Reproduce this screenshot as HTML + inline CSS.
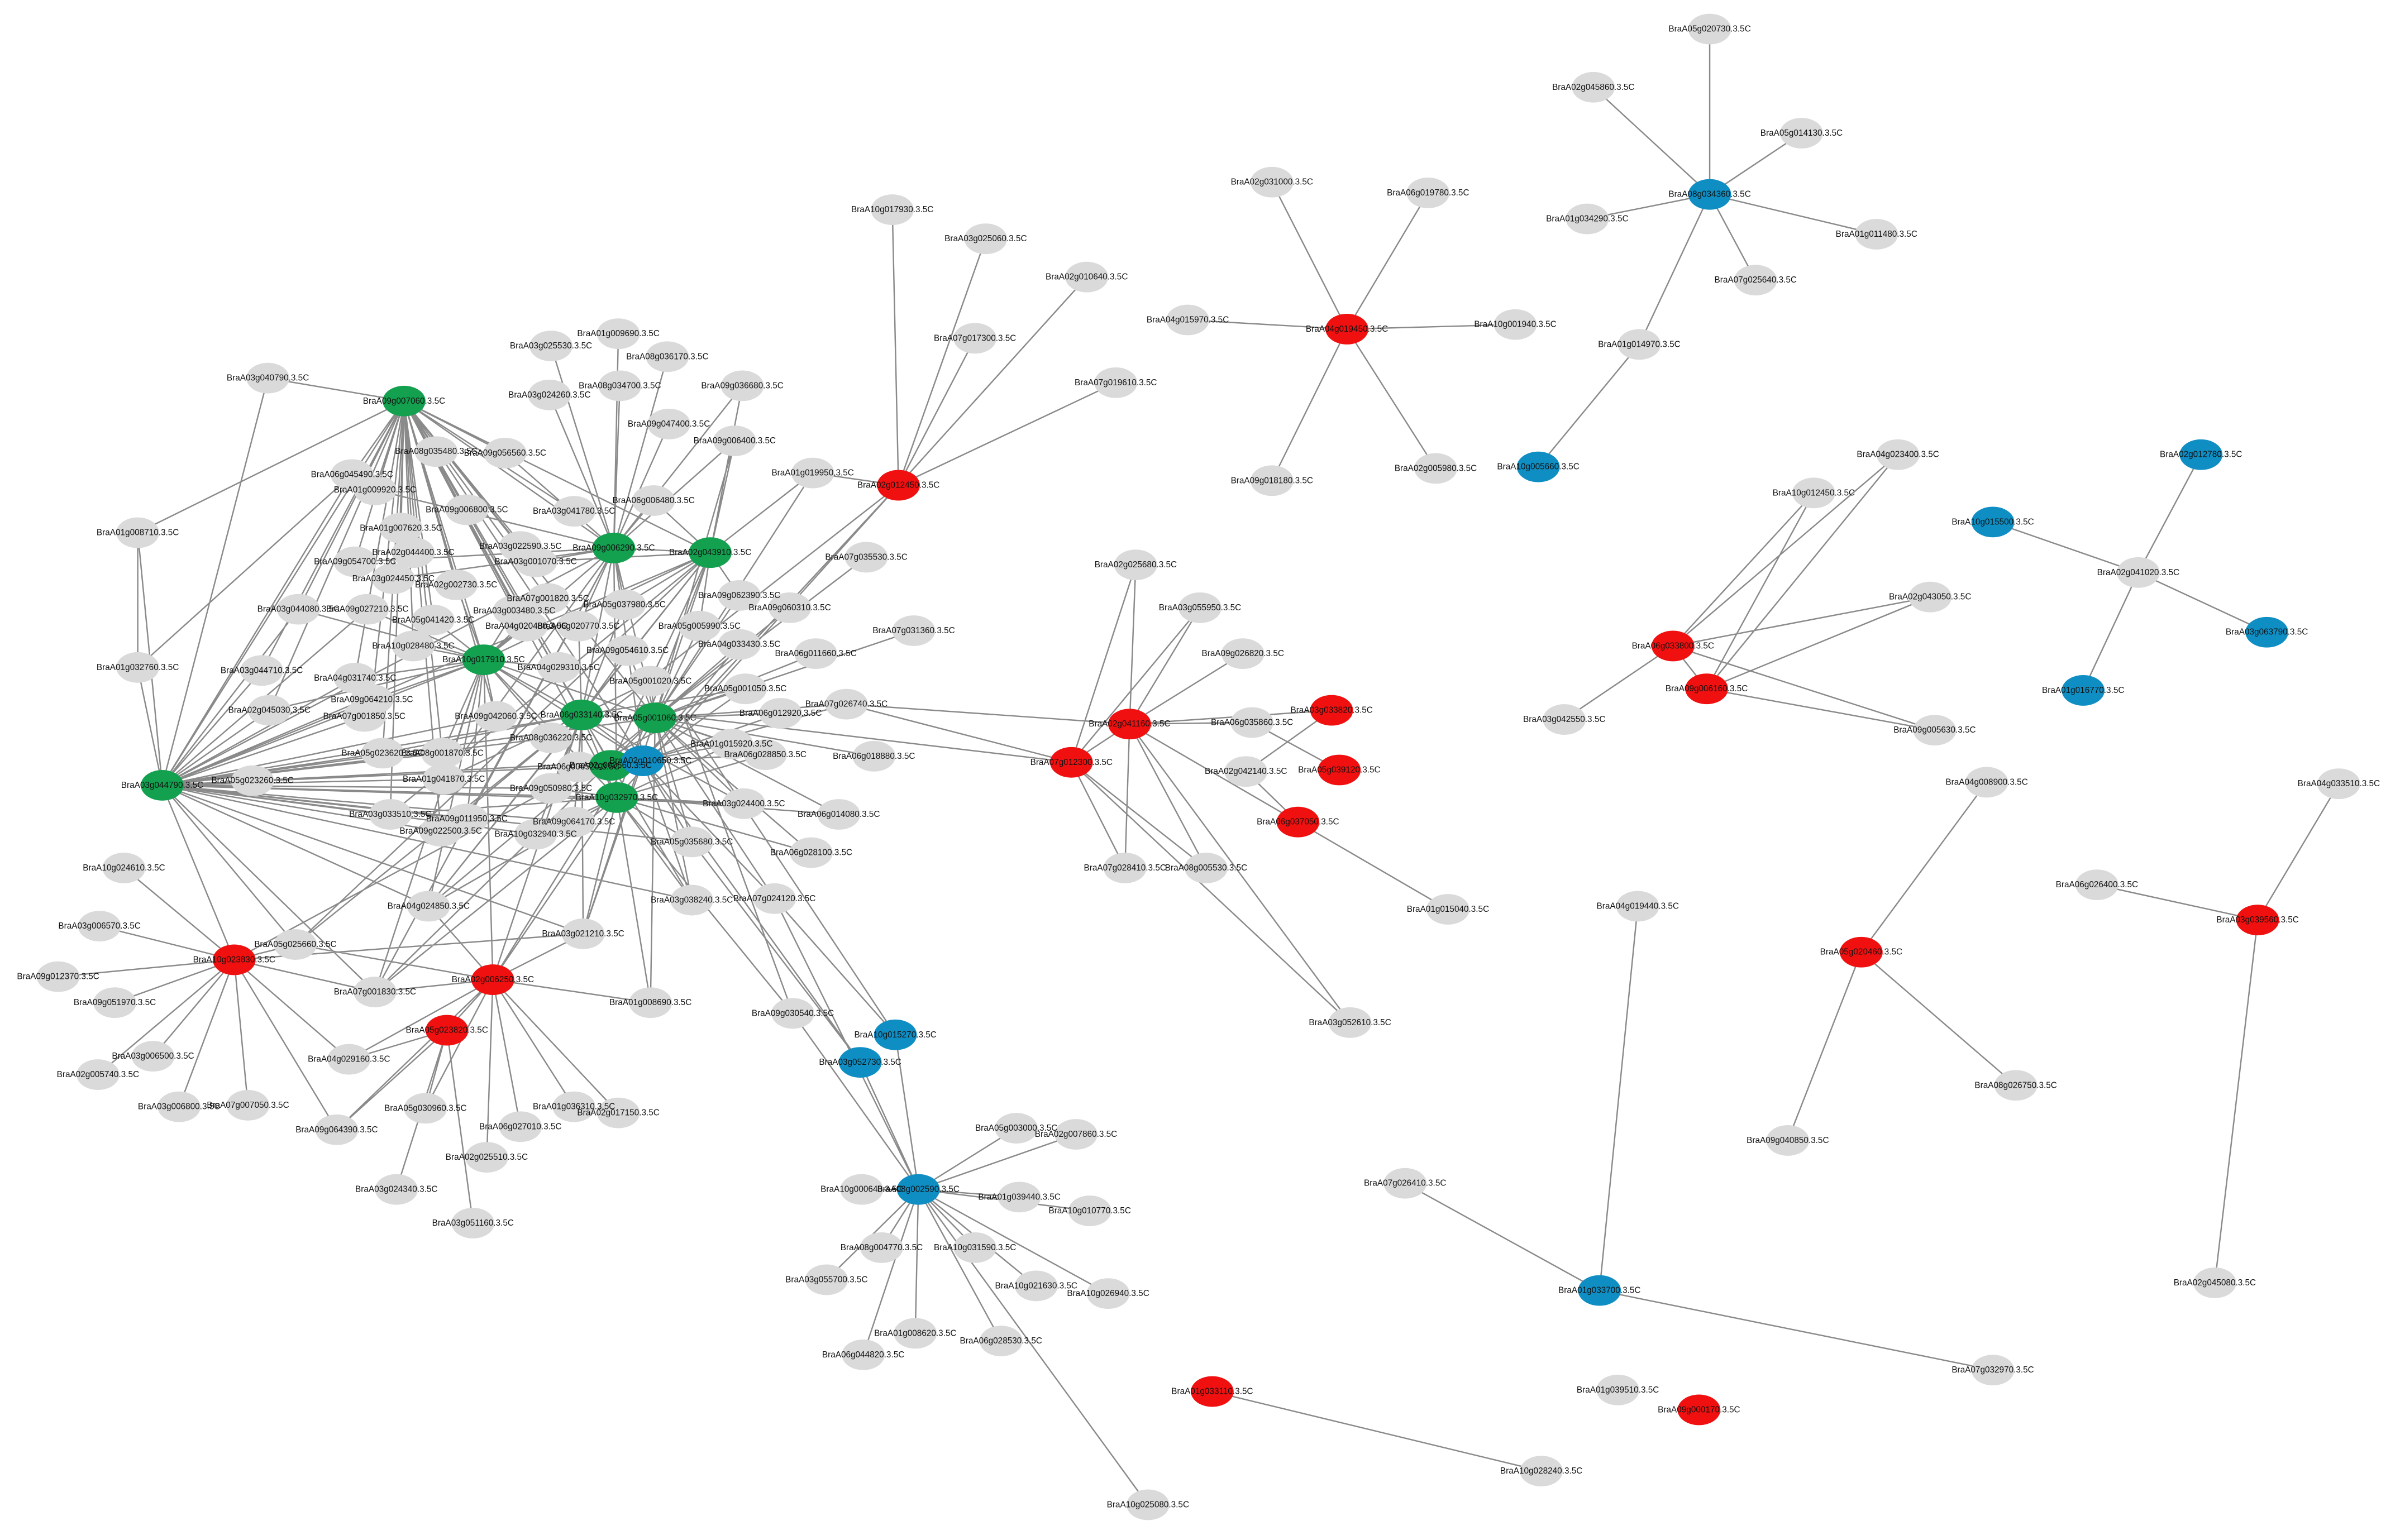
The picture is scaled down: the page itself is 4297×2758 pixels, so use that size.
<!DOCTYPE html>
<html><head><meta charset="utf-8"><style>
html,body{margin:0;padding:0;background:#fff;}
svg{display:block;}
text{font-family:"Liberation Sans",sans-serif;font-size:5.6px;fill:#111;text-anchor:middle;dominant-baseline:central;}
.e{stroke:#8a8a8a;stroke-width:0.9;fill:none;}
.g{fill:#dadada;}.r{fill:#f01010;}.n{fill:#13a04f;}.b{fill:#0f8ec4;}
</style></head><body>
<svg width="4297" height="2758" viewBox="0 0 1568 1006" preserveAspectRatio="none">
<rect width="1568" height="1006" fill="#fff"/>
<path class="e" d="
M1117 127L1117 19M1117 127L1041 57M1117 127L1177 87M1117 127L1037 143M1117 127L1226 153M1117 127L1147 183M1117 127L1071 225M1071 225L1005 305
M880 215L831 119M880 215L933 126M880 215L776 209M880 215L990 212M880 215L831 314M880 215L938 306
M1397 374L1438 297M1397 374L1302 341M1397 374L1481 413M1397 374L1361 451
M1093 422L1185 322M1093 422L1240 297M1093 422L1261 390M1093 422L1022 470M1093 422L1264 477M1115 450L1185 322M1115 450L1240 297M1115 450L1261 390M1115 450L1264 477M1093 422L1115 450
M1216 622L1298 511M1216 622L1168 745M1216 622L1317 709
M1475 601L1528 512M1475 601L1370 578M1475 601L1447 838
M1045 843L1070 592M1045 843L918 773M1045 843L1302 895
M792 909L1007 961
M738 473L742 369M738 473L784 397M738 473L812 427M738 473L818 472M738 473L735 567M738 473L788 567M738 473L946 594M738 473L882 668M738 473L700 498M738 473L848 537M738 473L870 464M738 473L553 460
M700 498L742 369M700 498L784 397M700 498L735 567M700 498L788 567M700 498L882 668M700 498L447 468M700 498L553 460
M870 464L814 504M875 503L818 472M848 537L946 594M814 504L848 537
M587 317L583 137M587 317L644 156M587 317L710 181M587 317L637 221M587 317L729 250M587 317L531 309M587 317L447 468M587 317L403 521M587 317L395 467M587 317L420 497
M600 777L585 676M600 777L562 694M600 777L518 662M600 777L664 737M600 777L703 741M600 777L563 777M600 777L666 782M600 777L712 791M600 777L576 815M600 777L637 815M600 777L540 836M600 777L677 840M600 777L724 845M600 777L598 871M600 777L654 876M600 777L564 885M600 777L750 983M600 777L506 587
M585 676L447 468M585 676L506 587M562 694L420 497M562 694L452 550M518 662L447 468M518 662L403 521
M153 627L81 567M153 627L65 605M153 627L38 638M153 627L75 655M153 627L100 690M153 627L64 702M153 627L117 723M153 627L162 722M153 627L220 738M153 627L228 692M153 627L193 617M153 627L245 648M153 627L106 513M153 627L381 610M153 627L447 468
M322 640L280 592M322 640L245 648M322 640L193 617M322 640L425 655M322 640L381 610M322 640L228 692M322 640L278 724M322 640L340 736M322 640L375 723M322 640L404 727M322 640L318 756M322 640L220 738M322 640L316 431M322 640L380 467M322 640L428 469M322 640L292 673M322 640L403 521
M292 673L220 738M292 673L278 724M292 673L259 777M292 673L309 799M292 673L228 692
M106 513L175 247M106 513L90 348M106 513L90 436M106 513L230 310M106 513L264 262M106 513L316 431M106 513L380 467M106 513L428 469M106 513L403 521M106 513L420 497M106 513L399 500M106 513L193 617M106 513L245 648M106 513L280 592M106 513L381 610M106 513L165 510M106 513L176 464M106 513L171 438M106 513L243 457M106 513L238 468M106 513L250 492M106 513L289 492M106 513L290 509M106 513L288 543M106 513L305 535M106 513L324 468M106 513L360 482M106 513L401 358M106 513L464 361M106 513L255 532M106 513L350 545M106 513L375 537M106 513L360 515M106 513L232 443M106 513L195 398M106 513L240 398M106 513L452 588M106 513L452 550M106 513L486 525
M264 262L175 247M264 262L230 310M264 262L90 348M264 262L401 358M264 262L464 361M264 262L316 431M264 262L380 467M264 262L428 469M264 262L403 521M264 262L285 295M264 262L330 296M264 262L245 320M264 262L305 333M264 262L375 334M264 262L262 345M264 262L270 361M264 262L232 367M264 262L340 357M264 262L350 367M264 262L257 378M264 262L298 382M264 262L358 391M264 262L336 399M264 262L195 398M264 262L240 398M264 262L283 405M264 262L344 409M264 262L171 438M264 262L232 443M264 262L270 422M264 262L365 436M264 262L176 464M264 262L243 457M264 262L324 468M264 262L250 492M264 262L289 492M264 262L420 497M264 262L399 500M264 262L255 532M264 262L288 543
M401 358L360 226M401 358L359 258M401 358L405 252M401 358L404 218M401 358L436 233M401 358L437 277M401 358L485 252M401 358L427 327M401 358L480 288M401 358L464 361M401 358L316 431M401 358L380 467M401 358L428 469M401 358L403 521M401 358L420 497M401 358L350 367M401 358L408 395M401 358L378 409M401 358L330 296M401 358L245 320M401 358L232 367M401 358L257 378M401 358L290 509M401 358L305 535M401 358L245 648
M464 361L480 288M464 361L485 252M464 361L531 309M464 361L427 327M464 361L316 431M464 361L380 467M464 361L428 469M464 361L403 521M464 361L399 500M464 361L483 389M464 361L457 409M464 361L408 395M464 361L350 367M464 361L255 532M464 361L280 592M464 361L193 617
M428 469L487 450M428 469L510 466M428 469L533 427M428 469L483 421M428 469L516 397M428 469L483 389M428 469L457 409M428 469L566 364M428 469L597 412M428 469L553 460M428 469L478 486M428 469L500 493M428 469L571 494M428 469L486 525M428 469L548 532M428 469L530 557M428 469L452 550M428 469L452 588M428 469L506 587M428 469L480 288M428 469L531 309M428 469L316 431M428 469L380 467M428 469L425 445M428 469L410 425M428 469L280 592M428 469L381 610M428 469L245 648M428 469L425 655
M316 431L380 467M316 431L403 521M316 431L420 497M316 431L365 436M316 431L270 422M316 431L283 405M316 431L336 399M316 431L344 409M316 431L298 382M316 431L358 391M316 431L243 457M316 431L324 468M316 431L289 492M316 431L290 509M316 431L305 535M316 431L360 482M316 431L280 592M316 431L245 648M316 431L176 464M316 431L232 443M316 431L195 398M316 431L240 398
M380 467L403 521M380 467L420 497M380 467L360 482M380 467L378 501M380 467L360 515M380 467L350 545M380 467L375 537M380 467L288 543M380 467L290 509M380 467L250 492M380 467L378 409M380 467L408 395M380 467L410 425M380 467L425 445M380 467L487 450M380 467L486 525M380 467L280 592M380 467L381 610M380 467L452 588M380 467L193 617
M403 521L452 550M403 521L452 588M403 521L381 610M403 521L280 592M403 521L245 648M403 521L425 655M403 521L486 525M403 521L530 557M403 521L548 532M403 521L500 493M403 521L478 486M403 521L360 515M403 521L375 537M403 521L350 545M403 521L255 532
M420 497L478 486M420 497L500 493M420 497L487 450M420 497L510 466M420 497L483 421M420 497L452 550M420 497L452 588M420 497L381 610M420 497L506 587M420 497L553 460
M90 348L90 436M90 436L230 310M175 247L106 513
"/>
<g>
<ellipse class="g" cx="1117" cy="19" rx="14" ry="10"/><ellipse class="g" cx="1041" cy="57" rx="14" ry="10"/><ellipse class="g" cx="1177" cy="87" rx="14" ry="10"/><ellipse class="g" cx="1037" cy="143" rx="14" ry="10"/><ellipse class="g" cx="1226" cy="153" rx="14" ry="10"/><ellipse class="g" cx="1147" cy="183" rx="14" ry="10"/><ellipse class="g" cx="1071" cy="225" rx="14" ry="10"/>
<ellipse class="g" cx="831" cy="119" rx="14" ry="10"/><ellipse class="g" cx="933" cy="126" rx="14" ry="10"/><ellipse class="g" cx="776" cy="209" rx="14" ry="10"/><ellipse class="g" cx="990" cy="212" rx="14" ry="10"/><ellipse class="g" cx="831" cy="314" rx="14" ry="10"/><ellipse class="g" cx="938" cy="306" rx="14" ry="10"/>
<ellipse class="g" cx="1397" cy="374" rx="14" ry="10"/><ellipse class="g" cx="1185" cy="322" rx="14" ry="10"/><ellipse class="g" cx="1240" cy="297" rx="14" ry="10"/><ellipse class="g" cx="1261" cy="390" rx="14" ry="10"/><ellipse class="g" cx="1022" cy="470" rx="14" ry="10"/><ellipse class="g" cx="1264" cy="477" rx="14" ry="10"/>
<ellipse class="g" cx="1298" cy="511" rx="14" ry="10"/><ellipse class="g" cx="1168" cy="745" rx="14" ry="10"/><ellipse class="g" cx="1317" cy="709" rx="14" ry="10"/><ellipse class="g" cx="1528" cy="512" rx="14" ry="10"/><ellipse class="g" cx="1370" cy="578" rx="14" ry="10"/><ellipse class="g" cx="1447" cy="838" rx="14" ry="10"/>
<ellipse class="g" cx="1070" cy="592" rx="14" ry="10"/><ellipse class="g" cx="918" cy="773" rx="14" ry="10"/><ellipse class="g" cx="1302" cy="895" rx="14" ry="10"/><ellipse class="g" cx="1007" cy="961" rx="14" ry="10"/><ellipse class="g" cx="1057" cy="908" rx="14" ry="10"/>
<ellipse class="g" cx="742" cy="369" rx="14" ry="10"/><ellipse class="g" cx="784" cy="397" rx="14" ry="10"/><ellipse class="g" cx="812" cy="427" rx="14" ry="10"/><ellipse class="g" cx="597" cy="412" rx="14" ry="10"/><ellipse class="g" cx="818" cy="472" rx="14" ry="10"/><ellipse class="g" cx="814" cy="504" rx="14" ry="10"/><ellipse class="g" cx="735" cy="567" rx="14" ry="10"/><ellipse class="g" cx="788" cy="567" rx="14" ry="10"/><ellipse class="g" cx="946" cy="594" rx="14" ry="10"/><ellipse class="g" cx="882" cy="668" rx="14" ry="10"/><ellipse class="g" cx="553" cy="460" rx="14" ry="10"/>
<ellipse class="g" cx="583" cy="137" rx="14" ry="10"/><ellipse class="g" cx="644" cy="156" rx="14" ry="10"/><ellipse class="g" cx="710" cy="181" rx="14" ry="10"/><ellipse class="g" cx="637" cy="221" rx="14" ry="10"/><ellipse class="g" cx="729" cy="250" rx="14" ry="10"/><ellipse class="g" cx="531" cy="309" rx="14" ry="10"/>
<ellipse class="g" cx="518" cy="662" rx="14" ry="10"/><ellipse class="g" cx="664" cy="737" rx="14" ry="10"/><ellipse class="g" cx="703" cy="741" rx="14" ry="10"/><ellipse class="g" cx="563" cy="777" rx="14" ry="10"/><ellipse class="g" cx="666" cy="782" rx="14" ry="10"/><ellipse class="g" cx="712" cy="791" rx="14" ry="10"/><ellipse class="g" cx="576" cy="815" rx="14" ry="10"/><ellipse class="g" cx="637" cy="815" rx="14" ry="10"/><ellipse class="g" cx="540" cy="836" rx="14" ry="10"/><ellipse class="g" cx="677" cy="840" rx="14" ry="10"/><ellipse class="g" cx="724" cy="845" rx="14" ry="10"/><ellipse class="g" cx="598" cy="871" rx="14" ry="10"/><ellipse class="g" cx="654" cy="876" rx="14" ry="10"/><ellipse class="g" cx="564" cy="885" rx="14" ry="10"/><ellipse class="g" cx="750" cy="983" rx="14" ry="10"/><ellipse class="g" cx="506" cy="587" rx="14" ry="10"/>
<ellipse class="g" cx="81" cy="567" rx="14" ry="10"/><ellipse class="g" cx="65" cy="605" rx="14" ry="10"/><ellipse class="g" cx="38" cy="638" rx="14" ry="10"/><ellipse class="g" cx="75" cy="655" rx="14" ry="10"/><ellipse class="g" cx="100" cy="690" rx="14" ry="10"/><ellipse class="g" cx="64" cy="702" rx="14" ry="10"/><ellipse class="g" cx="117" cy="723" rx="14" ry="10"/><ellipse class="g" cx="162" cy="722" rx="14" ry="10"/><ellipse class="g" cx="220" cy="738" rx="14" ry="10"/><ellipse class="g" cx="228" cy="692" rx="14" ry="10"/><ellipse class="g" cx="278" cy="724" rx="14" ry="10"/><ellipse class="g" cx="340" cy="736" rx="14" ry="10"/><ellipse class="g" cx="375" cy="723" rx="14" ry="10"/><ellipse class="g" cx="404" cy="727" rx="14" ry="10"/><ellipse class="g" cx="318" cy="756" rx="14" ry="10"/><ellipse class="g" cx="259" cy="777" rx="14" ry="10"/><ellipse class="g" cx="309" cy="799" rx="14" ry="10"/><ellipse class="g" cx="245" cy="648" rx="14" ry="10"/><ellipse class="g" cx="193" cy="617" rx="14" ry="10"/><ellipse class="g" cx="425" cy="655" rx="14" ry="10"/><ellipse class="g" cx="280" cy="592" rx="14" ry="10"/><ellipse class="g" cx="381" cy="610" rx="14" ry="10"/><ellipse class="g" cx="452" cy="588" rx="14" ry="10"/><ellipse class="g" cx="452" cy="550" rx="14" ry="10"/><ellipse class="g" cx="530" cy="557" rx="14" ry="10"/><ellipse class="g" cx="548" cy="532" rx="14" ry="10"/><ellipse class="g" cx="486" cy="525" rx="14" ry="10"/>
<ellipse class="g" cx="175" cy="247" rx="14" ry="10"/><ellipse class="g" cx="230" cy="310" rx="14" ry="10"/><ellipse class="g" cx="90" cy="348" rx="14" ry="10"/><ellipse class="g" cx="90" cy="436" rx="14" ry="10"/><ellipse class="g" cx="285" cy="295" rx="14" ry="10"/><ellipse class="g" cx="330" cy="296" rx="14" ry="10"/><ellipse class="g" cx="245" cy="320" rx="14" ry="10"/><ellipse class="g" cx="305" cy="333" rx="14" ry="10"/><ellipse class="g" cx="375" cy="334" rx="14" ry="10"/><ellipse class="g" cx="262" cy="345" rx="14" ry="10"/><ellipse class="g" cx="270" cy="361" rx="14" ry="10"/><ellipse class="g" cx="232" cy="367" rx="14" ry="10"/><ellipse class="g" cx="340" cy="357" rx="14" ry="10"/><ellipse class="g" cx="350" cy="367" rx="14" ry="10"/><ellipse class="g" cx="257" cy="378" rx="14" ry="10"/><ellipse class="g" cx="298" cy="382" rx="14" ry="10"/><ellipse class="g" cx="358" cy="391" rx="14" ry="10"/><ellipse class="g" cx="336" cy="399" rx="14" ry="10"/><ellipse class="g" cx="195" cy="398" rx="14" ry="10"/><ellipse class="g" cx="240" cy="398" rx="14" ry="10"/><ellipse class="g" cx="283" cy="405" rx="14" ry="10"/><ellipse class="g" cx="344" cy="409" rx="14" ry="10"/><ellipse class="g" cx="378" cy="409" rx="14" ry="10"/><ellipse class="g" cx="408" cy="395" rx="14" ry="10"/><ellipse class="g" cx="171" cy="438" rx="14" ry="10"/><ellipse class="g" cx="232" cy="443" rx="14" ry="10"/><ellipse class="g" cx="270" cy="422" rx="14" ry="10"/><ellipse class="g" cx="365" cy="436" rx="14" ry="10"/><ellipse class="g" cx="410" cy="425" rx="14" ry="10"/><ellipse class="g" cx="425" cy="445" rx="14" ry="10"/><ellipse class="g" cx="176" cy="464" rx="14" ry="10"/><ellipse class="g" cx="243" cy="457" rx="14" ry="10"/><ellipse class="g" cx="324" cy="468" rx="14" ry="10"/><ellipse class="g" cx="238" cy="468" rx="14" ry="10"/><ellipse class="g" cx="250" cy="492" rx="14" ry="10"/><ellipse class="g" cx="289" cy="492" rx="14" ry="10"/><ellipse class="g" cx="360" cy="482" rx="14" ry="10"/><ellipse class="g" cx="378" cy="501" rx="14" ry="10"/><ellipse class="g" cx="165" cy="510" rx="14" ry="10"/><ellipse class="g" cx="290" cy="509" rx="14" ry="10"/><ellipse class="g" cx="360" cy="515" rx="14" ry="10"/><ellipse class="g" cx="255" cy="532" rx="14" ry="10"/><ellipse class="g" cx="305" cy="535" rx="14" ry="10"/><ellipse class="g" cx="375" cy="537" rx="14" ry="10"/><ellipse class="g" cx="288" cy="543" rx="14" ry="10"/><ellipse class="g" cx="350" cy="545" rx="14" ry="10"/><ellipse class="g" cx="478" cy="486" rx="14" ry="10"/><ellipse class="g" cx="500" cy="493" rx="14" ry="10"/><ellipse class="g" cx="571" cy="494" rx="14" ry="10"/><ellipse class="g" cx="487" cy="450" rx="14" ry="10"/><ellipse class="g" cx="510" cy="466" rx="14" ry="10"/><ellipse class="g" cx="533" cy="427" rx="14" ry="10"/><ellipse class="g" cx="483" cy="421" rx="14" ry="10"/><ellipse class="g" cx="516" cy="397" rx="14" ry="10"/><ellipse class="g" cx="483" cy="389" rx="14" ry="10"/><ellipse class="g" cx="457" cy="409" rx="14" ry="10"/><ellipse class="g" cx="566" cy="364" rx="14" ry="10"/><ellipse class="g" cx="480" cy="288" rx="14" ry="10"/><ellipse class="g" cx="437" cy="277" rx="14" ry="10"/><ellipse class="g" cx="485" cy="252" rx="14" ry="10"/><ellipse class="g" cx="436" cy="233" rx="14" ry="10"/><ellipse class="g" cx="405" cy="252" rx="14" ry="10"/><ellipse class="g" cx="404" cy="218" rx="14" ry="10"/><ellipse class="g" cx="360" cy="226" rx="14" ry="10"/><ellipse class="g" cx="359" cy="258" rx="14" ry="10"/><ellipse class="g" cx="427" cy="327" rx="14" ry="10"/>
</g>
<g>
<ellipse class="b" cx="1117" cy="127" rx="14" ry="10"/><ellipse class="b" cx="1005" cy="305" rx="14" ry="10"/><ellipse class="b" cx="1438" cy="297" rx="14" ry="10"/><ellipse class="b" cx="1302" cy="341" rx="14" ry="10"/><ellipse class="b" cx="1481" cy="413" rx="14" ry="10"/><ellipse class="b" cx="1361" cy="451" rx="14" ry="10"/><ellipse class="b" cx="1045" cy="843" rx="14" ry="10"/><ellipse class="b" cx="600" cy="777" rx="14" ry="10"/><ellipse class="b" cx="585" cy="676" rx="14" ry="10"/><ellipse class="b" cx="562" cy="694" rx="14" ry="10"/>
<ellipse class="r" cx="880" cy="215" rx="14" ry="10"/><ellipse class="r" cx="1093" cy="422" rx="14" ry="10"/><ellipse class="r" cx="1115" cy="450" rx="14" ry="10"/><ellipse class="r" cx="1216" cy="622" rx="14" ry="10"/><ellipse class="r" cx="1475" cy="601" rx="14" ry="10"/><ellipse class="r" cx="792" cy="909" rx="14" ry="10"/><ellipse class="r" cx="1110" cy="921" rx="14" ry="10"/><ellipse class="r" cx="738" cy="473" rx="14" ry="10"/><ellipse class="r" cx="700" cy="498" rx="14" ry="10"/><ellipse class="r" cx="870" cy="464" rx="14" ry="10"/><ellipse class="r" cx="875" cy="503" rx="14" ry="10"/><ellipse class="r" cx="848" cy="537" rx="14" ry="10"/><ellipse class="r" cx="587" cy="317" rx="14" ry="10"/><ellipse class="r" cx="153" cy="627" rx="14" ry="10"/><ellipse class="r" cx="322" cy="640" rx="14" ry="10"/><ellipse class="r" cx="292" cy="673" rx="14" ry="10"/>
<ellipse class="n" cx="106" cy="513" rx="14" ry="10"/><ellipse class="n" cx="264" cy="262" rx="14" ry="10"/><ellipse class="n" cx="401" cy="358" rx="14" ry="10"/><ellipse class="n" cx="464" cy="361" rx="14" ry="10"/><ellipse class="n" cx="316" cy="431" rx="14" ry="10"/><ellipse class="n" cx="380" cy="467" rx="14" ry="10"/><ellipse class="n" cx="428" cy="469" rx="14" ry="10"/><ellipse class="n" cx="403" cy="521" rx="14" ry="10"/><ellipse class="n" cx="399" cy="500" rx="14" ry="10"/><ellipse class="b" cx="420" cy="497" rx="14" ry="10"/>
</g>
<g>
<text x="1117" y="127">BraA08g034360.3.5C</text><text x="1117" y="19">BraA05g020730.3.5C</text><text x="1041" y="57">BraA02g045860.3.5C</text><text x="1177" y="87">BraA05g014130.3.5C</text><text x="1037" y="143">BraA01g034290.3.5C</text><text x="1226" y="153">BraA01g011480.3.5C</text><text x="1147" y="183">BraA07g025640.3.5C</text><text x="1071" y="225">BraA01g014970.3.5C</text><text x="1005" y="305">BraA10g005660.3.5C</text>
<text x="880" y="215">BraA04g019450.3.5C</text><text x="831" y="119">BraA02g031000.3.5C</text><text x="933" y="126">BraA06g019780.3.5C</text><text x="776" y="209">BraA04g015970.3.5C</text><text x="990" y="212">BraA10g001940.3.5C</text><text x="831" y="314">BraA09g018180.3.5C</text><text x="938" y="306">BraA02g005980.3.5C</text>
<text x="1438" y="297">BraA02g012780.3.5C</text><text x="1302" y="341">BraA10g015500.3.5C</text><text x="1397" y="374">BraA02g041020.3.5C</text><text x="1481" y="413">BraA03g063790.3.5C</text><text x="1361" y="451">BraA01g016770.3.5C</text>
<text x="1093" y="422">BraA06g033800.3.5C</text><text x="1115" y="450">BraA09g006160.3.5C</text><text x="1185" y="322">BraA10g012450.3.5C</text><text x="1240" y="297">BraA04g023400.3.5C</text><text x="1261" y="390">BraA02g043050.3.5C</text><text x="1022" y="470">BraA03g042550.3.5C</text><text x="1264" y="477">BraA09g005630.3.5C</text>
<text x="1216" y="622">BraA05g020460.3.5C</text><text x="1298" y="511">BraA04g008900.3.5C</text><text x="1168" y="745">BraA09g040850.3.5C</text><text x="1317" y="709">BraA08g026750.3.5C</text>
<text x="1475" y="601">BraA03g039560.3.5C</text><text x="1528" y="512">BraA04g033510.3.5C</text><text x="1370" y="578">BraA06g026400.3.5C</text><text x="1447" y="838">BraA02g045080.3.5C</text>
<text x="1045" y="843">BraA01g033700.3.5C</text><text x="1070" y="592">BraA04g019440.3.5C</text><text x="918" y="773">BraA07g026410.3.5C</text><text x="1302" y="895">BraA07g032970.3.5C</text>
<text x="792" y="909">BraA01g033110.3.5C</text><text x="1007" y="961">BraA10g028240.3.5C</text><text x="1057" y="908">BraA01g039510.3.5C</text><text x="1110" y="921">BraA09g000170.3.5C</text>
<text x="738" y="473">BraA02g041160.3.5C</text><text x="700" y="498">BraA07g012300.3.5C</text><text x="870" y="464">BraA03g033820.3.5C</text><text x="875" y="503">BraA05g039120.3.5C</text><text x="848" y="537">BraA06g037050.3.5C</text><text x="742" y="369">BraA02g025680.3.5C</text><text x="784" y="397">BraA03g055950.3.5C</text><text x="812" y="427">BraA09g026820.3.5C</text><text x="597" y="412">BraA07g031360.3.5C</text><text x="818" y="472">BraA06g035860.3.5C</text><text x="814" y="504">BraA02g042140.3.5C</text><text x="735" y="567">BraA07g028410.3.5C</text><text x="788" y="567">BraA08g005530.3.5C</text><text x="946" y="594">BraA01g015040.3.5C</text><text x="882" y="668">BraA03g052610.3.5C</text><text x="553" y="460">BraA07g026740.3.5C</text>
<text x="587" y="317">BraA02g012450.3.5C</text><text x="583" y="137">BraA10g017930.3.5C</text><text x="644" y="156">BraA03g025060.3.5C</text><text x="710" y="181">BraA02g010640.3.5C</text><text x="637" y="221">BraA07g017300.3.5C</text><text x="729" y="250">BraA07g019610.3.5C</text><text x="531" y="309">BraA01g019950.3.5C</text>
<text x="600" y="777">BraA08g002590.3.5C</text><text x="585" y="676">BraA10g015270.3.5C</text><text x="562" y="694">BraA03g052730.3.5C</text><text x="518" y="662">BraA09g030540.3.5C</text><text x="664" y="737">BraA05g003000.3.5C</text><text x="703" y="741">BraA02g007860.3.5C</text><text x="563" y="777">BraA10g000640.3.5C</text><text x="666" y="782">BraA01g039440.3.5C</text><text x="712" y="791">BraA10g010770.3.5C</text><text x="576" y="815">BraA08g004770.3.5C</text><text x="637" y="815">BraA10g031590.3.5C</text><text x="540" y="836">BraA03g055700.3.5C</text><text x="677" y="840">BraA10g021630.3.5C</text><text x="724" y="845">BraA10g026940.3.5C</text><text x="598" y="871">BraA01g008620.3.5C</text><text x="654" y="876">BraA06g028530.3.5C</text><text x="564" y="885">BraA06g044820.3.5C</text><text x="750" y="983">BraA10g025080.3.5C</text><text x="506" y="587">BraA07g024120.3.5C</text>
<text x="153" y="627">BraA10g023830.3.5C</text><text x="322" y="640">BraA02g006250.3.5C</text><text x="292" y="673">BraA05g023820.3.5C</text><text x="81" y="567">BraA10g024610.3.5C</text><text x="65" y="605">BraA03g006570.3.5C</text><text x="38" y="638">BraA09g012370.3.5C</text><text x="75" y="655">BraA09g051970.3.5C</text><text x="100" y="690">BraA03g006500.3.5C</text><text x="64" y="702">BraA02g005740.3.5C</text><text x="117" y="723">BraA03g006800.3.5C</text><text x="162" y="722">BraA07g007050.3.5C</text><text x="220" y="738">BraA09g064390.3.5C</text><text x="228" y="692">BraA04g029160.3.5C</text><text x="278" y="724">BraA05g030960.3.5C</text><text x="340" y="736">BraA06g027010.3.5C</text><text x="375" y="723">BraA01g036310.3.5C</text><text x="404" y="727">BraA02g017150.3.5C</text><text x="318" y="756">BraA02g025510.3.5C</text><text x="259" y="777">BraA03g024340.3.5C</text><text x="309" y="799">BraA03g051160.3.5C</text><text x="245" y="648">BraA07g001830.3.5C</text><text x="193" y="617">BraA05g025660.3.5C</text><text x="425" y="655">BraA01g008690.3.5C</text><text x="280" y="592">BraA04g024850.3.5C</text><text x="381" y="610">BraA03g021210.3.5C</text><text x="452" y="588">BraA03g038240.3.5C</text><text x="452" y="550">BraA05g035680.3.5C</text><text x="530" y="557">BraA06g028100.3.5C</text><text x="548" y="532">BraA06g014080.3.5C</text><text x="486" y="525">BraA03g024400.3.5C</text>
<text x="106" y="513">BraA03g044790.3.5C</text><text x="264" y="262">BraA09g007060.3.5C</text><text x="401" y="358">BraA09g006290.3.5C</text><text x="464" y="361">BraA02g043910.3.5C</text><text x="316" y="431">BraA10g017910.3.5C</text><text x="380" y="467">BraA06g033140.3.5C</text><text x="428" y="469">BraA05g001060.3.5C</text><text x="403" y="521">BraA10g032970.3.5C</text><text x="399" y="500">BraA02g000660.3.5C</text><text x="425" y="497">BraA02g010650.3.5C</text>
<text x="175" y="247">BraA03g040790.3.5C</text><text x="230" y="310">BraA06g045490.3.5C</text><text x="90" y="348">BraA01g008710.3.5C</text><text x="90" y="436">BraA01g032760.3.5C</text><text x="285" y="295">BraA08g035480.3.5C</text><text x="330" y="296">BraA09g056560.3.5C</text><text x="245" y="320">BraA01g009920.3.5C</text><text x="305" y="333">BraA09g006800.3.5C</text><text x="375" y="334">BraA03g041780.3.5C</text><text x="262" y="345">BraA01g007620.3.5C</text><text x="270" y="361">BraA02g044400.3.5C</text><text x="232" y="367">BraA09g054700.3.5C</text><text x="340" y="357">BraA03g022590.3.5C</text><text x="350" y="367">BraA03g001070.3.5C</text><text x="257" y="378">BraA03g024450.3.5C</text><text x="298" y="382">BraA02g002730.3.5C</text><text x="358" y="391">BraA07g001820.3.5C</text><text x="336" y="399">BraA03g003480.3.5C</text><text x="195" y="398">BraA03g044080.3.5C</text><text x="240" y="398">BraA09g027210.3.5C</text><text x="283" y="405">BraA05g041420.3.5C</text><text x="344" y="409">BraA04g020480.3.5C</text><text x="378" y="409">BraA06g020770.3.5C</text><text x="408" y="395">BraA05g037980.3.5C</text><text x="171" y="438">BraA03g044710.3.5C</text><text x="232" y="443">BraA04g031740.3.5C</text><text x="270" y="422">BraA10g028480.3.5C</text><text x="365" y="436">BraA04g029310.3.5C</text><text x="410" y="425">BraA09g054610.3.5C</text><text x="425" y="445">BraA05g001020.3.5C</text><text x="176" y="464">BraA02g045030.3.5C</text><text x="243" y="457">BraA09g064210.3.5C</text><text x="324" y="468">BraA09g042060.3.5C</text><text x="238" y="468">BraA07g001850.3.5C</text><text x="250" y="492">BraA05g023620.3.5C</text><text x="289" y="492">BraA08g001870.3.5C</text><text x="360" y="482">BraA08g036220.3.5C</text><text x="378" y="501">BraA06g006520.3.5C</text><text x="165" y="510">BraA05g023260.3.5C</text><text x="290" y="509">BraA01g041870.3.5C</text><text x="360" y="515">BraA09g050980.3.5C</text><text x="255" y="532">BraA03g033510.3.5C</text><text x="305" y="535">BraA09g011950.3.5C</text><text x="375" y="537">BraA09g064170.3.5C</text><text x="288" y="543">BraA09g022500.3.5C</text><text x="350" y="545">BraA10g032940.3.5C</text><text x="478" y="486">BraA01g015920.3.5C</text><text x="500" y="493">BraA06g028850.3.5C</text><text x="571" y="494">BraA06g018880.3.5C</text><text x="487" y="450">BraA05g001050.3.5C</text><text x="510" y="466">BraA06g012920.3.5C</text><text x="533" y="427">BraA06g011660.3.5C</text><text x="483" y="421">BraA04g033430.3.5C</text><text x="516" y="397">BraA09g060310.3.5C</text><text x="483" y="389">BraA09g062390.3.5C</text><text x="457" y="409">BraA05g005990.3.5C</text><text x="566" y="364">BraA07g035530.3.5C</text><text x="480" y="288">BraA09g006400.3.5C</text><text x="437" y="277">BraA09g047400.3.5C</text><text x="485" y="252">BraA09g036680.3.5C</text><text x="436" y="233">BraA08g036170.3.5C</text><text x="405" y="252">BraA08g034700.3.5C</text><text x="404" y="218">BraA01g009690.3.5C</text><text x="360" y="226">BraA03g025530.3.5C</text><text x="359" y="258">BraA03g024260.3.5C</text><text x="427" y="327">BraA06g006480.3.5C</text>
</g>
</svg>
</body></html>
